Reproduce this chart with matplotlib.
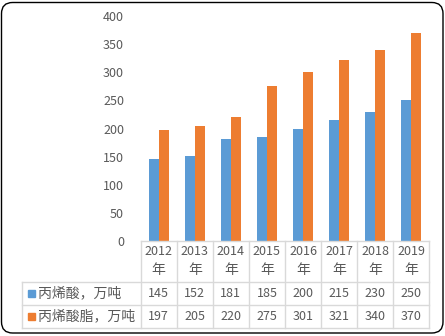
import matplotlib
matplotlib.use("Agg")
import matplotlib.pyplot as plt
import matplotlib.transforms as mtransforms
from matplotlib.patches import FancyBboxPatch, Rectangle
from matplotlib.lines import Line2D
import numpy as np

plt.rcParams['font.family'] = ['Noto Sans CJK SC', 'DejaVu Sans']

years = ['2012', '2013', '2014', '2015', '2016', '2017', '2018', '2019']
acid = [145, 152, 181, 185, 200, 215, 230, 250]
ester = [197, 205, 220, 275, 301, 321, 340, 370]
series_names = ['丙烯酸，万吨', '丙烯酸脂，万吨']
colors = ['#5B9BD5', '#ED7D31']
yticks = [0, 50, 100, 150, 200, 250, 300, 350, 400]

W, H = 445, 336
txt = '#595959'
grid = '#D9D9D9'
fs = 9      # numbers
fs_cn = 10  # chinese labels

fig = plt.figure(figsize=(W / 100, H / 100), dpi=100)

def fx(p):
    return p / W

def fy(p):
    return 1 - p / H

# plot area sits right above the data table
ax = fig.add_axes([fx(140.7), fy(241), fx(429.3) - fx(140.7), fy(16) - fy(241)])
x = np.arange(len(years))
bw = 0.277
ax.bar(x - bw / 2, acid, bw, color=colors[0])
ax.bar(x + bw / 2, ester, bw, color=colors[1])
ax.set_xlim(-0.5, len(years) - 0.5)
ax.set_ylim(0, 400)
ax.set_yticks(yticks)
ax.set_xticks([])
ax.tick_params(axis='y', length=0, pad=12, labelsize=fs, labelcolor=txt)
for s in ax.spines.values():
    s.set_visible(False)

# table: x in data units, y in figure fraction
tr = mtransforms.blended_transform_factory(ax.transData, fig.transFigure)
top, r1, r2, r3 = fy(241), fy(281.7), fy(305), fy(328.3)
left = ax.transData.inverted().transform((22.3, 0))[0]
n = len(years)

def hline(y, x0, x1):
    fig.add_artist(Line2D([x0, x1], [y, y], transform=tr, color=grid, lw=1))

def vline(xv, y0, y1):
    fig.add_artist(Line2D([xv, xv], [y0, y1], transform=tr, color=grid, lw=1))

hline(top, -0.5, n - 0.5)
for yy in (r1, r2, r3):
    hline(yy, left, n - 0.5)
for i in range(n + 1):
    vline(i - 0.5, top, r3)
vline(left, r1, r3)

for i, yr in enumerate(years):
    fig.text(i, fy(251.7), yr, transform=tr, ha='center', va='center',
             fontsize=fs, color=txt)
    fig.text(i, fy(270), '年', transform=tr, ha='center', va='center',
             fontsize=fs_cn, color=txt)
    fig.text(i, (r1 + r2) / 2, str(acid[i]), transform=tr, ha='center', va='center',
             fontsize=fs, color=txt)
    fig.text(i, (r2 + r3) / 2, str(ester[i]), transform=tr, ha='center', va='center',
             fontsize=fs, color=txt)

for k, (name, c) in enumerate(zip(series_names, colors)):
    yc = [(r1 + r2) / 2, (r2 + r3) / 2][k]
    fig.add_artist(Rectangle((fx(28), yc - 3.5 / H), 7 / W, 7 / H,
                             transform=fig.transFigure, color=c))
    fig.text(fx(38), yc, name, ha='left', va='center', fontsize=fs_cn, color=txt)

# rounded chart frame
fig.add_artist(FancyBboxPatch((fx(1.5), fy(333)), fx(441.5), (332 - 1.5) / H,
                              boxstyle='round,pad=0,rounding_size=0.025',
                              transform=fig.transFigure, fill=False,
                              edgecolor='black', lw=1.0, mutation_aspect=W / H))

fig.savefig('out.png', dpi=100)
